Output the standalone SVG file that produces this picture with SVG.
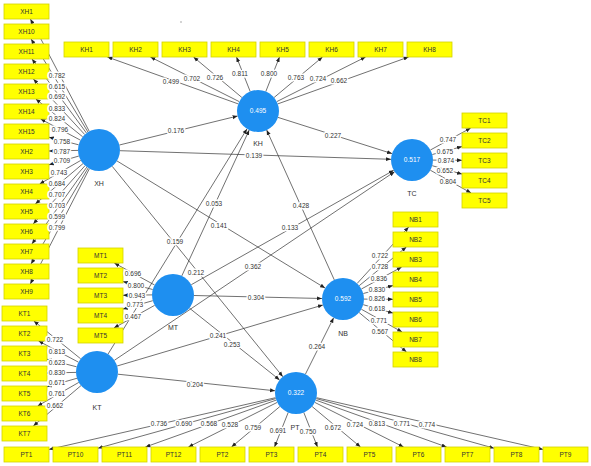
<svg xmlns="http://www.w3.org/2000/svg" width="591" height="466" viewBox="0 0 591 466">
<style>
text{font-family:"Liberation Sans",Arial,sans-serif;font-size:6.5px;fill:#333;text-anchor:middle}
.ln{stroke:#333;stroke-width:0.7;fill:none;marker-end:url(#ah)}
.lb{stroke:#fff;stroke-width:3;paint-order:stroke;stroke-linejoin:round}
.box{fill:#ffff00;stroke:#d2d200;stroke-width:0.8}
.lv{fill:#1e8ff0}
.val{fill:#fff}
.nm{font-size:7px}
</style>
<defs>
<marker id="ah" viewBox="0 0 6 6" refX="6" refY="3" markerWidth="5" markerHeight="5" orient="auto" markerUnits="userSpaceOnUse"><path d="M0,0.6 L6,3 L0,5.4 z" fill="#222"/></marker>
</defs>
<rect width="591" height="466" fill="#fff"/>
<circle cx="181" cy="22" r="0.7" fill="#888"/>
<g id="connectors">
<!-- XH loadings -->
<line class="ln" x1="89.3" y1="131.4" x2="30.4" y2="19"/>
<line class="ln" x1="88" y1="132.1" x2="31.1" y2="39"/>
<line class="ln" x1="86.5" y1="133.1" x2="32" y2="59"/>
<line class="ln" x1="84.8" y1="134.6" x2="33.4" y2="79"/>
<line class="ln" x1="82.7" y1="136.8" x2="35.8" y2="99"/>
<line class="ln" x1="80.5" y1="140.2" x2="40.6" y2="119"/>
<line class="ln" x1="78.6" y1="144.8" x2="49" y2="137.2"/>
<line class="ln" x1="78" y1="150.4" x2="49" y2="151"/>
<line class="ln" x1="78.9" y1="156" x2="49" y2="164.8"/>
<line class="ln" x1="80.8" y1="160.4" x2="39.6" y2="184"/>
<line class="ln" x1="83" y1="163.6" x2="35.3" y2="204"/>
<line class="ln" x1="85" y1="165.7" x2="33.2" y2="224"/>
<line class="ln" x1="86.8" y1="167.1" x2="31.9" y2="244"/>
<line class="ln" x1="88.2" y1="168" x2="31" y2="264"/>
<line class="ln" x1="89.4" y1="168.7" x2="30.3" y2="284"/>
<!-- KH loadings -->
<line class="ln" x1="238.2" y1="103.9" x2="107.4" y2="57"/>
<line class="ln" x1="239.2" y1="101.6" x2="150.4" y2="57"/>
<line class="ln" x1="241.9" y1="97.5" x2="193.5" y2="57"/>
<line class="ln" x1="250.2" y1="91.5" x2="236.5" y2="57"/>
<line class="ln" x1="265.8" y1="91.5" x2="279.5" y2="57"/>
<line class="ln" x1="274.1" y1="97.5" x2="322.5" y2="57"/>
<line class="ln" x1="276.8" y1="101.6" x2="365.6" y2="57"/>
<line class="ln" x1="277.8" y1="103.9" x2="408.6" y2="57"/>
<!-- TC loadings -->
<line class="ln" x1="430.4" y1="150" x2="470.7" y2="128"/>
<line class="ln" x1="432.3" y1="154.5" x2="462" y2="146.6"/>
<line class="ln" x1="433" y1="160.1" x2="462" y2="160.3"/>
<line class="ln" x1="432.2" y1="165.7" x2="462" y2="174.1"/>
<line class="ln" x1="430.3" y1="170.2" x2="471.1" y2="193"/>
<!-- NB loadings -->
<line class="ln" x1="357.1" y1="283.5" x2="408.7" y2="227"/>
<line class="ln" x1="359.2" y1="285.7" x2="406.4" y2="247"/>
<line class="ln" x1="361.4" y1="289" x2="401.7" y2="267"/>
<line class="ln" x1="363.3" y1="293.5" x2="393" y2="285.6"/>
<line class="ln" x1="364" y1="299.1" x2="393" y2="299.3"/>
<line class="ln" x1="363.2" y1="304.7" x2="393" y2="313.1"/>
<line class="ln" x1="361.3" y1="309.2" x2="402.1" y2="332"/>
<line class="ln" x1="359.1" y1="312.5" x2="406.5" y2="352"/>
<!-- MT loadings -->
<line class="ln" x1="154.6" y1="285" x2="114.3" y2="263"/>
<line class="ln" x1="152.7" y1="289.5" x2="123" y2="281.6"/>
<line class="ln" x1="152" y1="294.9" x2="123" y2="295.3"/>
<line class="ln" x1="152.8" y1="300.7" x2="123" y2="309.1"/>
<line class="ln" x1="154.7" y1="305.3" x2="113.9" y2="328"/>
<!-- KT loadings -->
<line class="ln" x1="80.7" y1="358.8" x2="33.8" y2="321"/>
<line class="ln" x1="78.5" y1="362.2" x2="38.6" y2="341"/>
<line class="ln" x1="76.6" y1="366.8" x2="47" y2="359.2"/>
<line class="ln" x1="76" y1="372.4" x2="47" y2="373"/>
<line class="ln" x1="77.9" y1="378" x2="47" y2="386.8"/>
<line class="ln" x1="78.8" y1="382.4" x2="37.6" y2="406"/>
<line class="ln" x1="81" y1="385.6" x2="33.3" y2="426"/>
<!-- PT loadings -->
<line class="ln" x1="275.5" y1="397.7" x2="49" y2="449.4"/>
<line class="ln" x1="275.8" y1="398.6" x2="98" y2="448.2"/>
<line class="ln" x1="276.2" y1="400.1" x2="145.4" y2="447"/>
<line class="ln" x1="277.2" y1="402.4" x2="188.4" y2="447"/>
<line class="ln" x1="279.9" y1="406.5" x2="231.5" y2="447"/>
<line class="ln" x1="288.2" y1="412.5" x2="274.5" y2="447"/>
<line class="ln" x1="303.8" y1="412.5" x2="317.5" y2="447"/>
<line class="ln" x1="312.1" y1="406.5" x2="360.5" y2="447"/>
<line class="ln" x1="314.8" y1="402.4" x2="403.6" y2="447"/>
<line class="ln" x1="315.8" y1="400.1" x2="446.6" y2="447"/>
<line class="ln" x1="316.2" y1="398.6" x2="494" y2="448.2"/>
<line class="ln" x1="316.5" y1="397.7" x2="543" y2="449.4"/>
<!-- inner model -->
<line class="ln" x1="119.4" y1="145" x2="237.6" y2="116"/>
<line class="ln" x1="120" y1="150.7" x2="391" y2="159.3"/>
<line class="ln" x1="116.9" y1="160.9" x2="325.1" y2="288.1"/>
<line class="ln" x1="112.2" y1="166.3" x2="282.8" y2="376.7"/>
<line class="ln" x1="278" y1="117.4" x2="392" y2="153.6"/>
<line class="ln" x1="334.3" y1="279.9" x2="266.7" y2="130.1"/>
<line class="ln" x1="181.8" y1="275.9" x2="249.2" y2="130.1"/>
<line class="ln" x1="191.3" y1="284.7" x2="393.7" y2="170.3"/>
<line class="ln" x1="194" y1="295.5" x2="322" y2="298.5"/>
<line class="ln" x1="189.4" y1="308.1" x2="279.6" y2="379.9"/>
<line class="ln" x1="108" y1="354.1" x2="247" y2="128.9"/>
<line class="ln" x1="114.4" y1="360.3" x2="394.6" y2="171.7"/>
<line class="ln" x1="117.1" y1="366" x2="322.9" y2="305"/>
<line class="ln" x1="117.9" y1="374.2" x2="275.1" y2="390.8"/>
<line class="ln" x1="305.4" y1="374.2" x2="333.6" y2="317.8"/>
</g>
<g id="node-XH"><circle class="lv" cx="99" cy="150" r="21"/><text class="nm" x="99" y="186">XH</text></g>
<g id="node-KH"><circle class="lv" cx="258" cy="111" r="21"/><text class="val" x="258" y="113.3">0.495</text><text class="nm" x="258" y="146">KH</text></g>
<g id="node-TC"><circle class="lv" cx="412" cy="160" r="21"/><text class="val" x="412" y="162.3">0.517</text><text class="nm" x="412" y="196">TC</text></g>
<g id="node-MT"><circle class="lv" cx="173" cy="295" r="21"/><text class="nm" x="173" y="329.5">MT</text></g>
<g id="node-NB"><circle class="lv" cx="343" cy="299" r="21"/><text class="val" x="343" y="301.3">0.592</text><text class="nm" x="343" y="335.5">NB</text></g>
<g id="node-KT"><circle class="lv" cx="97" cy="372" r="21"/><text class="nm" x="97" y="409.5">KT</text></g>
<g id="node-PT"><circle class="lv" cx="296" cy="393" r="21"/><text class="val" x="296" y="395.3">0.322</text><text class="nm" x="295" y="429.5">PT</text></g>
<g id="ind-XH">
<g id="XH1"><rect class="box" x="4" y="4" width="45" height="15"/><text x="26.5" y="13.8">XH1</text></g>
<g id="XH10"><rect class="box" x="4" y="24" width="45" height="15"/><text x="26.5" y="33.8">XH10</text></g>
<g id="XH11"><rect class="box" x="4" y="44" width="45" height="15"/><text x="26.5" y="53.8">XH11</text></g>
<g id="XH12"><rect class="box" x="4" y="64" width="45" height="15"/><text x="26.5" y="73.8">XH12</text></g>
<g id="XH13"><rect class="box" x="4" y="84" width="45" height="15"/><text x="26.5" y="93.8">XH13</text></g>
<g id="XH14"><rect class="box" x="4" y="104" width="45" height="15"/><text x="26.5" y="113.8">XH14</text></g>
<g id="XH15"><rect class="box" x="4" y="124" width="45" height="15"/><text x="26.5" y="133.8">XH15</text></g>
<g id="XH2"><rect class="box" x="4" y="144" width="45" height="15"/><text x="26.5" y="153.8">XH2</text></g>
<g id="XH3"><rect class="box" x="4" y="164" width="45" height="15"/><text x="26.5" y="173.8">XH3</text></g>
<g id="XH4"><rect class="box" x="4" y="184" width="45" height="15"/><text x="26.5" y="193.8">XH4</text></g>
<g id="XH5"><rect class="box" x="4" y="204" width="45" height="15"/><text x="26.5" y="213.8">XH5</text></g>
<g id="XH6"><rect class="box" x="4" y="224" width="45" height="15"/><text x="26.5" y="233.8">XH6</text></g>
<g id="XH7"><rect class="box" x="4" y="244" width="45" height="15"/><text x="26.5" y="253.8">XH7</text></g>
<g id="XH8"><rect class="box" x="4" y="264" width="45" height="15"/><text x="26.5" y="273.8">XH8</text></g>
<g id="XH9"><rect class="box" x="4" y="284" width="45" height="15"/><text x="26.5" y="293.8">XH9</text></g>
</g>
<g id="ind-KH">
<g id="KH1"><rect class="box" x="64" y="42" width="45" height="15"/><text x="86.5" y="51.8">KH1</text></g>
<g id="KH2"><rect class="box" x="113" y="42" width="45" height="15"/><text x="135.5" y="51.8">KH2</text></g>
<g id="KH3"><rect class="box" x="162" y="42" width="45" height="15"/><text x="184.5" y="51.8">KH3</text></g>
<g id="KH4"><rect class="box" x="211" y="42" width="45" height="15"/><text x="233.5" y="51.8">KH4</text></g>
<g id="KH5"><rect class="box" x="260" y="42" width="45" height="15"/><text x="282.5" y="51.8">KH5</text></g>
<g id="KH6"><rect class="box" x="309" y="42" width="45" height="15"/><text x="331.5" y="51.8">KH6</text></g>
<g id="KH7"><rect class="box" x="358" y="42" width="45" height="15"/><text x="380.5" y="51.8">KH7</text></g>
<g id="KH8"><rect class="box" x="407" y="42" width="45" height="15"/><text x="429.5" y="51.8">KH8</text></g>
</g>
<g id="ind-TC">
<g id="TC1"><rect class="box" x="462" y="113" width="45" height="15"/><text x="484.5" y="122.8">TC1</text></g>
<g id="TC2"><rect class="box" x="462" y="133" width="45" height="15"/><text x="484.5" y="142.8">TC2</text></g>
<g id="TC3"><rect class="box" x="462" y="153" width="45" height="15"/><text x="484.5" y="162.8">TC3</text></g>
<g id="TC4"><rect class="box" x="462" y="173" width="45" height="15"/><text x="484.5" y="182.8">TC4</text></g>
<g id="TC5"><rect class="box" x="462" y="193" width="45" height="15"/><text x="484.5" y="202.8">TC5</text></g>
</g>
<g id="ind-NB">
<g id="NB1"><rect class="box" x="393" y="212" width="45" height="15"/><text x="415.5" y="221.8">NB1</text></g>
<g id="NB2"><rect class="box" x="393" y="232" width="45" height="15"/><text x="415.5" y="241.8">NB2</text></g>
<g id="NB3"><rect class="box" x="393" y="252" width="45" height="15"/><text x="415.5" y="261.8">NB3</text></g>
<g id="NB4"><rect class="box" x="393" y="272" width="45" height="15"/><text x="415.5" y="281.8">NB4</text></g>
<g id="NB5"><rect class="box" x="393" y="292" width="45" height="15"/><text x="415.5" y="301.8">NB5</text></g>
<g id="NB6"><rect class="box" x="393" y="312" width="45" height="15"/><text x="415.5" y="321.8">NB6</text></g>
<g id="NB7"><rect class="box" x="393" y="332" width="45" height="15"/><text x="415.5" y="341.8">NB7</text></g>
<g id="NB8"><rect class="box" x="393" y="352" width="45" height="15"/><text x="415.5" y="361.8">NB8</text></g>
</g>
<g id="ind-MT">
<g id="MT1"><rect class="box" x="78" y="248" width="45" height="15"/><text x="100.5" y="257.8">MT1</text></g>
<g id="MT2"><rect class="box" x="78" y="268" width="45" height="15"/><text x="100.5" y="277.8">MT2</text></g>
<g id="MT3"><rect class="box" x="78" y="288" width="45" height="15"/><text x="100.5" y="297.8">MT3</text></g>
<g id="MT4"><rect class="box" x="78" y="308" width="45" height="15"/><text x="100.5" y="317.8">MT4</text></g>
<g id="MT5"><rect class="box" x="78" y="328" width="45" height="15"/><text x="100.5" y="337.8">MT5</text></g>
</g>
<g id="ind-KT">
<g id="KT1"><rect class="box" x="2" y="306" width="45" height="15"/><text x="24.5" y="315.8">KT1</text></g>
<g id="KT2"><rect class="box" x="2" y="326" width="45" height="15"/><text x="24.5" y="335.8">KT2</text></g>
<g id="KT3"><rect class="box" x="2" y="346" width="45" height="15"/><text x="24.5" y="355.8">KT3</text></g>
<g id="KT4"><rect class="box" x="2" y="366" width="45" height="15"/><text x="24.5" y="375.8">KT4</text></g>
<g id="KT5"><rect class="box" x="2" y="386" width="45" height="15"/><text x="24.5" y="395.8">KT5</text></g>
<g id="KT6"><rect class="box" x="2" y="406" width="45" height="15"/><text x="24.5" y="415.8">KT6</text></g>
<g id="KT7"><rect class="box" x="2" y="426" width="45" height="15"/><text x="24.5" y="435.8">KT7</text></g>
</g>
<g id="ind-PT">
<g id="PT1"><rect class="box" x="4" y="447" width="45" height="15"/><text x="26.5" y="456.8">PT1</text></g>
<g id="PT10"><rect class="box" x="53" y="447" width="45" height="15"/><text x="75.5" y="456.8">PT10</text></g>
<g id="PT11"><rect class="box" x="102" y="447" width="45" height="15"/><text x="124.5" y="456.8">PT11</text></g>
<g id="PT12"><rect class="box" x="151" y="447" width="45" height="15"/><text x="173.5" y="456.8">PT12</text></g>
<g id="PT2"><rect class="box" x="200" y="447" width="45" height="15"/><text x="222.5" y="456.8">PT2</text></g>
<g id="PT3"><rect class="box" x="249" y="447" width="45" height="15"/><text x="271.5" y="456.8">PT3</text></g>
<g id="PT4"><rect class="box" x="298" y="447" width="45" height="15"/><text x="320.5" y="456.8">PT4</text></g>
<g id="PT5"><rect class="box" x="347" y="447" width="45" height="15"/><text x="369.5" y="456.8">PT5</text></g>
<g id="PT6"><rect class="box" x="396" y="447" width="45" height="15"/><text x="418.5" y="456.8">PT6</text></g>
<g id="PT7"><rect class="box" x="445" y="447" width="45" height="15"/><text x="467.5" y="456.8">PT7</text></g>
<g id="PT8"><rect class="box" x="494" y="447" width="45" height="15"/><text x="516.5" y="456.8">PT8</text></g>
<g id="PT9"><rect class="box" x="543" y="447" width="45" height="15"/><text x="565.5" y="456.8">PT9</text></g>
</g>
<g id="connector-labels">
<text class="lb" x="57" y="78.3">0.782</text>
<text class="lb" x="57" y="89.3">0.615</text>
<text class="lb" x="57" y="99.3">0.692</text>
<text class="lb" x="57" y="111.3">0.833</text>
<text class="lb" x="57" y="121.3">0.824</text>
<text class="lb" x="60" y="132.3">0.796</text>
<text class="lb" x="62" y="144.3">0.758</text>
<text class="lb" x="62" y="154.3">0.787</text>
<text class="lb" x="62" y="163.3">0.709</text>
<text class="lb" x="59" y="175.3">0.743</text>
<text class="lb" x="57" y="186.3">0.684</text>
<text class="lb" x="57" y="197.3">0.707</text>
<text class="lb" x="57" y="208.3">0.703</text>
<text class="lb" x="57" y="219.3">0.599</text>
<text class="lb" x="57" y="230.3">0.799</text>
<text class="lb" x="171" y="84.3">0.499</text>
<text class="lb" x="192" y="81.3">0.702</text>
<text class="lb" x="215" y="80.3">0.726</text>
<text class="lb" x="240" y="76.3">0.811</text>
<text class="lb" x="269" y="76.3">0.800</text>
<text class="lb" x="296" y="80.3">0.763</text>
<text class="lb" x="318" y="81.3">0.724</text>
<text class="lb" x="339" y="83.3">0.662</text>
<text class="lb" x="448" y="142.3">0.747</text>
<text class="lb" x="445" y="154.3">0.675</text>
<text class="lb" x="446" y="163.3">0.874</text>
<text class="lb" x="445" y="173.3">0.652</text>
<text class="lb" x="448" y="184.3">0.804</text>
<text class="lb" x="380" y="258.3">0.722</text>
<text class="lb" x="380" y="269.3">0.728</text>
<text class="lb" x="379" y="281.3">0.836</text>
<text class="lb" x="377" y="292.3">0.830</text>
<text class="lb" x="377" y="301.3">0.826</text>
<text class="lb" x="377" y="311.3">0.618</text>
<text class="lb" x="379" y="323.3">0.771</text>
<text class="lb" x="380" y="334.3">0.567</text>
<text class="lb" x="133" y="276.3">0.696</text>
<text class="lb" x="136" y="288.3">0.800</text>
<text class="lb" x="137" y="298.3">0.943</text>
<text class="lb" x="135" y="307.3">0.773</text>
<text class="lb" x="133" y="319.3">0.467</text>
<text class="lb" x="55" y="342.3">0.722</text>
<text class="lb" x="57" y="354.3">0.813</text>
<text class="lb" x="57" y="365.3">0.623</text>
<text class="lb" x="57" y="375.3">0.830</text>
<text class="lb" x="57" y="385.3">0.671</text>
<text class="lb" x="57" y="396.3">0.761</text>
<text class="lb" x="55" y="408.3">0.662</text>
<text class="lb" x="159" y="426.3">0.736</text>
<text class="lb" x="184" y="426.3">0.690</text>
<text class="lb" x="209" y="426.3">0.568</text>
<text class="lb" x="230" y="427.3">0.528</text>
<text class="lb" x="253" y="430.3">0.759</text>
<text class="lb" x="278" y="433.3">0.691</text>
<text class="lb" x="308" y="434.3">0.750</text>
<text class="lb" x="333" y="430.3">0.672</text>
<text class="lb" x="355" y="427.3">0.724</text>
<text class="lb" x="377" y="426.3">0.813</text>
<text class="lb" x="402" y="426.3">0.771</text>
<text class="lb" x="427" y="427.3">0.774</text>
<text class="lb" x="176" y="133.3">0.176</text>
<text class="lb" x="254" y="158.3">0.139</text>
<text class="lb" x="219" y="228.3">0.141</text>
<text class="lb" x="196" y="275.3">0.212</text>
<text class="lb" x="333" y="138.3">0.227</text>
<text class="lb" x="301" y="208.3">0.428</text>
<text class="lb" x="214" y="206.3">0.053</text>
<text class="lb" x="290" y="230.3">0.133</text>
<text class="lb" x="256" y="300.3">0.304</text>
<text class="lb" x="232" y="347.3">0.253</text>
<text class="lb" x="175" y="244.3">0.159</text>
<text class="lb" x="253" y="269.3">0.362</text>
<text class="lb" x="218" y="338.3">0.241</text>
<text class="lb" x="195" y="387.3">0.204</text>
<text class="lb" x="317" y="349.3">0.264</text>
</g>
</svg>
